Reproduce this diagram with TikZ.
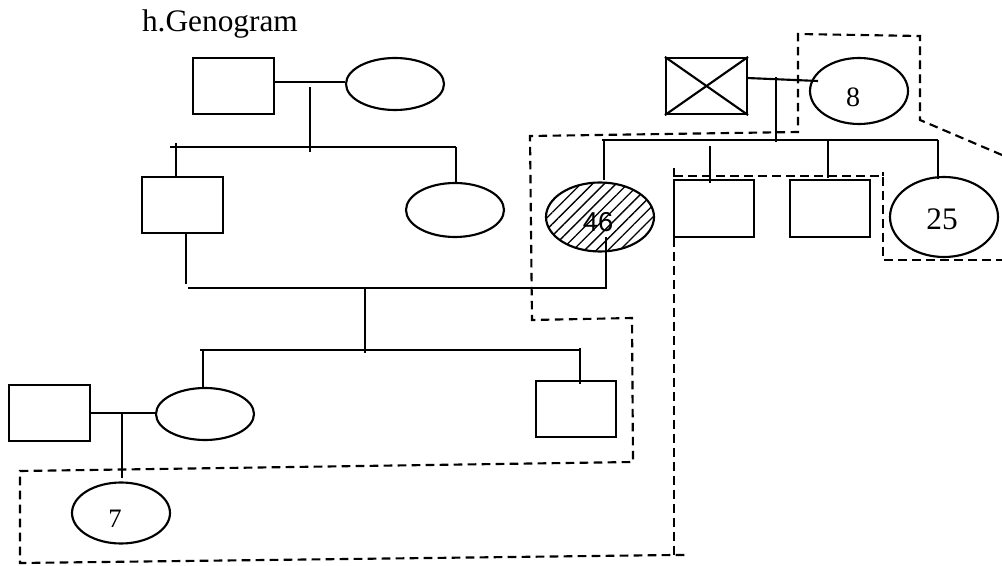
\documentclass[tikz,border=0pt]{standalone}
\usepackage{fontspec}
\setmainfont{Liberation Serif}
\newfontfamily\numsans{Liberation Sans}
\usetikzlibrary{shapes.geometric,patterns.meta}
\begin{document}
\begin{tikzpicture}[x=0.75pt,y=-0.75pt,line width=1.6pt,
  sq/.style={draw,rectangle,inner sep=0pt,minimum width=81*0.75pt,minimum height=56*0.75pt},
  el/.style={draw,ellipse,inner sep=0pt,minimum width=98*0.75pt,minimum height=52*0.75pt},
  num/.style={inner sep=0pt,font=\fontsize{23.5pt}{28pt}\selectfont},
  bound/.style={dash pattern=on 6.5pt off 4pt,line width=1.6pt},
  hatch/.style={pattern={Lines[angle=45,distance=6.2pt,line width=1pt]}}]
\useasboundingbox (0,0) rectangle (1002,566);

% title
\node[anchor=base west,inner sep=0pt,font=\fontsize{23.5pt}{28pt}\selectfont] (title) at (141,32) {h.Genogram};

% persons
\node[sq] (A) at (233.5,86) {};
\node[el] (B) at (395,84) {};
\node[sq] (C) at (182.5,205) {};
\node[el,minimum height=54*0.75pt] (D) at (455,210) {};
\node[sq,minimum width=80*0.75pt] (E) at (576,409) {};
\node[el] (F) at (205,414) {};
\node[sq] (G) at (49.5,413) {};
\node[el,minimum height=61*0.75pt] (S7) at (121,513) {};
\node[sq] (H) at (706.5,86) {};
\node[el,minimum height=66*0.75pt] (E8) at (859,91) {};
\node[el,hatch,minimum width=108*0.75pt,minimum height=69*0.75pt] (E46) at (600,217) {};
\node[sq,minimum width=80*0.75pt,minimum height=57*0.75pt] (I) at (714,208.5) {};
\node[sq,minimum width=80*0.75pt,minimum height=57*0.75pt] (J) at (830,208.5) {};
\node[el,minimum width=108*0.75pt,minimum height=80*0.75pt] (E25) at (944,217) {};

% labels
\node[num,font=\numsans\fontsize{20.5pt}{24pt}\selectfont] (t46) at (598,222) {46};
\node[num] (t25) at (942,219) {25};
\node[num,font=\fontsize{21pt}{24pt}\selectfont] (t8) at (853,97) {8};
\node[num,font=\fontsize{20pt}{24pt}\selectfont] (t7) at (115,519) {7};

% crossed square
\draw (H.north west) -- (H.south east) (H.south west) -- (H.north east);

% generation 1 (left)
\coordinate (m1) at (310,82);
\coordinate (m1d) at (310,87);
\coordinate (s1) at (310,152);
\coordinate (b1l) at (170,147);
\coordinate (b1r) at (456,147);
\coordinate (cC) at (176,143);
\draw (A.east|-m1) -- (B.west|-m1);
\draw (m1d) -- (s1);
\draw (b1l) -- (b1r);
\draw (cC) -- (cC|-C.north);
\draw (b1r) -- (b1r|-D.north);

% generation 2
\coordinate (cd) at (186,284);
\coordinate (m2l) at (188,288);
\coordinate (m2r) at (606,288);
\coordinate (t46b) at (606,237);
\coordinate (m2c) at (365,288);
\coordinate (s2) at (365,353);
\coordinate (b2l) at (200,350);
\coordinate (b2r) at (580,350);
\coordinate (f1) at (203,350);
\coordinate (e1) at (580,348);
\draw (cd|-C.south) -- (cd);
\draw (m2l) -- (m2r) -- (t46b);
\draw (m2c) -- (s2);
\draw (b2l) -- (b2r);
\draw (f1) -- (f1|-F.north);
\draw (e1) -- ([yshift=-4*0.75pt]e1|-E.north);

% generation 3
\coordinate (m3) at (122,413);
\coordinate (m3d) at (122,478);
\draw (G.east|-m3) -- (F.west|-m3);
\draw (m3) -- (m3d);

% right family
\coordinate (h1) at (747,78);
\coordinate (h2) at (818,81);
\coordinate (m4) at (776,77);
\coordinate (s4) at (776,142);
\coordinate (b4l) at (602,140);
\coordinate (b4r) at (938,140);
\coordinate (d1) at (604,140);
\coordinate (d1e) at (604,180);
\coordinate (d2) at (710,146);
\coordinate (d2e) at (710,183);
\coordinate (d3) at (828,140);
\coordinate (d3e) at (828,178);
\coordinate (d4e) at (938,179);
\draw (h1) -- (h2);
\draw (m4) -- (s4);
\draw (b4l) -- (b4r);
\draw (d1) -- (d1e);
\draw (d2) -- (d2e);
\draw (d3) -- (d3e);
\draw (b4r) -- (d4e);

% dashed boundaries
\draw[bound] (1002,155) -- (920,120) -- (920,36) -- (798,34) -- (798,132) -- (530,136) -- (532,320) -- (632,318) -- (633,462) -- (20,471) -- (20,563) -- (674,555) -- (687,555);
\draw[bound] (674,555) -- (674,167);
\draw[bound] (674,176) -- (883,176) -- (883,260) -- (1002,260);
\draw[bound] (883,172) -- (883,176);
\end{tikzpicture}
\end{document}
